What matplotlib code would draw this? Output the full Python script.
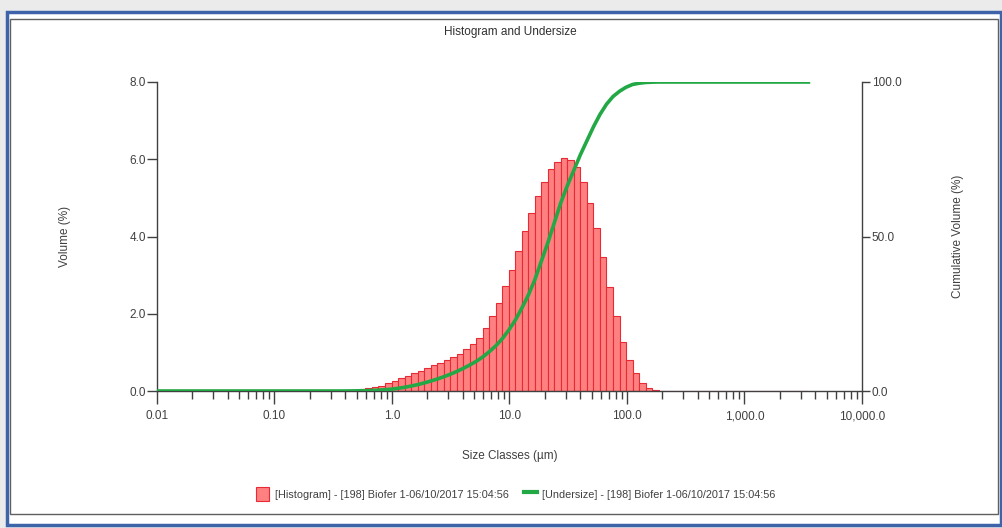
import numpy as np
import matplotlib
matplotlib.use("Agg")
import matplotlib.pyplot as plt
from matplotlib.patches import Rectangle, Patch
from matplotlib.lines import Line2D
from matplotlib.ticker import FixedLocator, LogLocator, NullFormatter

plt.rcParams['font.family'] = ['Liberation Sans', 'DejaVu Sans']

# 100 size classes of the instrument, 0.01 - 3500 um
size_edges = np.geomspace(0.01, 3500, 101)

# volume (%) per size class
volume = ([0.0] * 28 +
          [0.01, 0.02, 0.03, 0.04, 0.07, 0.10, 0.14, 0.20, 0.26, 0.33, 0.39, 0.46,
           0.53, 0.59, 0.67, 0.73, 0.80,
           0.87, 0.97, 1.08, 1.22, 1.38, 1.62, 1.93, 2.27, 2.73, 3.13, 3.63, 4.13,
           4.62, 5.05, 5.42, 5.74, 5.94, 6.03, 5.98, 5.81, 5.40, 4.88, 4.21, 3.46,
           2.70, 1.93, 1.28, 0.80, 0.46, 0.20, 0.07, 0.02] +
          [0.0] * 23)

# cumulative undersize (%) at each class edge
undersize = ([0.0] * 29 +
             [0.01, 0.03, 0.06, 0.10, 0.17, 0.27, 0.41, 0.60, 0.87, 1.2, 1.6, 2.05,
              2.6, 3.2, 3.85, 4.6, 5.4, 6.3, 7.3, 8.4, 9.6, 11.0, 12.7, 14.6, 16.9,
              19.7, 22.9, 26.8, 31.0, 36.0, 42.0, 48.0, 54.5, 61.0, 66.5, 71.5,
              76.5, 81.0, 85.5, 89.5, 92.8, 95.3, 97.0, 98.3, 99.2, 99.6, 99.85,
              99.95] +
             [100.0] * 24)

xticks = [0.01, 0.1, 1, 10, 100, 1000, 10000]
xticklabels = ["0.01", "0.10", "1.0", "10.0", "100.0", "1,000.0", "10,000.0"]
yticks = [0, 2, 4, 6, 8]
yticklabels = ["0.0", "2.0", "4.0", "6.0", "8.0"]
y2ticks = [0, 50, 100]
y2ticklabels = ["0.0", "50.0", "100.0"]

label_hist = "[Histogram] - [198] Biofer 1-06/10/2017 15:04:56"
label_under = "[Undersize] - [198] Biofer 1-06/10/2017 15:04:56"

W, H = 1003, 528
fig = plt.figure(figsize=(W / 100, H / 100), dpi=100)
fig.patch.set_facecolor('#ebebeb')

# screenshot frame, kept behind the axes
fig.patches.append(Rectangle((7 / W, 1 - 525 / H), 994 / W, 513 / H, transform=fig.transFigure,
                             facecolor='white', edgecolor='#3f63a8', linewidth=2.5, zorder=-10))
fig.patches.append(Rectangle((10 / W, 1 - 514 / H), 988 / W, 495 / H, transform=fig.transFigure,
                             facecolor='white', edgecolor='#606060', linewidth=1.0, zorder=-9))

ax = fig.add_axes([157 / W, 1 - 391 / H, 705 / W, 309 / H])
ax.patch.set_alpha(0)
ax2 = ax.twinx()

gray = '#404040'
ax.bar(size_edges[:-1], volume, width=np.diff(size_edges), align='edge',
       facecolor='#ff8080', edgecolor='#e62a36', linewidth=0.8, zorder=2)
ax2.plot(size_edges, undersize, color='#22a845', linewidth=2.6, zorder=3)

ax.set_xscale('log')
ax.set_xlim(0.01, 10000)
ax.set_ylim(0, 8)
ax2.set_ylim(0, 100)

ax.xaxis.set_major_locator(FixedLocator(xticks))
ax.set_xticklabels(xticklabels)
ax.xaxis.set_minor_locator(LogLocator(base=10, subs=np.arange(2, 10)))
ax.xaxis.set_minor_formatter(NullFormatter())
ax.set_yticks(yticks)
ax.set_yticklabels(yticklabels)
ax2.set_yticks(y2ticks)
ax2.set_yticklabels(y2ticklabels)

for a in (ax, ax2):
    a.spines['top'].set_visible(False)
    for s in a.spines.values():
        s.set_color(gray)
        s.set_linewidth(1.0)
ax2.spines['left'].set_visible(False)
ax2.spines['bottom'].set_visible(False)
ax.spines['right'].set_visible(False)

ax.tick_params(axis='x', which='major', length=9, width=1, color=gray, pad=5,
               labelsize=8.5, labelcolor=gray)
ax.tick_params(axis='x', which='minor', length=6, width=1, color=gray)
ax.tick_params(axis='y', length=7, width=1, color=gray, pad=1, labelsize=8.5, labelcolor=gray)
ax2.tick_params(axis='y', length=6, width=1, color=gray, pad=1, labelsize=8.5, labelcolor=gray)

ax.set_ylabel("Volume (%)", fontsize=8.5, color=gray)
ax.yaxis.set_label_coords(-(157 - 71) / 705, 0.5)
ax2.set_ylabel("Cumulative Volume (%)", fontsize=8.5, color=gray, rotation=90)
ax2.yaxis.set_label_coords((952 - 157) / 705, 0.5)
ax.set_xlabel("Size Classes (\u00b5m)", fontsize=8.5, color=gray)
ax.xaxis.set_label_coords(0.5, -(450 - 391) / 309)

fig.text(510 / W, 1 - 32 / H, "Histogram and Undersize", ha='center', va='center',
         fontsize=8.5, color='#303030')

handles = [Patch(facecolor='#ff8080', edgecolor='#e62a36', linewidth=0.8),
           Line2D([0], [0], color='#22a845', linewidth=3)]
fig.legend(handles, [label_hist, label_under], loc='center', ncol=2,
           bbox_to_anchor=(516 / W, 1 - 494 / H), frameon=False, fontsize=7.8,
           handlelength=1.2, handleheight=1.6, handletextpad=0.5, columnspacing=1.4,
           labelcolor=gray)

fig.savefig("out.png", dpi=100)
